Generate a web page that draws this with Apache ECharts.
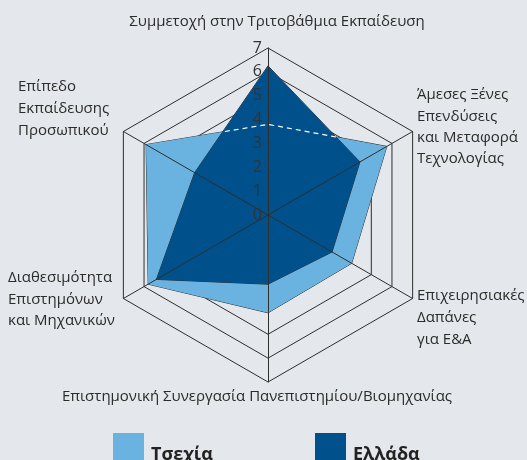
<!DOCTYPE html>
<html>
<head>
<meta charset="utf-8">
<script src="https://cdn.jsdelivr.net/npm/echarts@6/dist/echarts.min.js"></script>
<style>
  html, body { margin: 0; padding: 0; background: #e4e7eb; }
  #chart { width: 527px; height: 460px; }
</style>
</head>
<body>
<div id="chart"></div>
<script>
// Indicators in radar order (counter-clockwise, starting at the top)
const indicators = [
  'Συμμετοχή στην Τριτοβάθμια Εκπαίδευση',
  'Επίπεδο Εκπαίδευσης Προσωπικού',
  'Διαθεσιμότητα Επιστημόνων και Μηχανικών',
  'Επιστημονική Συνεργασία Πανεπιστημίου/Βιομηχανίας',
  'Επιχειρησιακές Δαπάνες για Ε&Α',
  'Άμεσες Ξένες Επενδύσεις και Μεταφορά Τεχνολογίας'
];
// How each indicator name is broken into lines around the chart
const nameLines = [
  ['Συμμετοχή στην Τριτοβάθμια Εκπαίδευση'],
  ['Επίπεδο', 'Εκπαίδευσης', 'Προσωπικού'],
  ['Διαθεσιμότητα', 'Επιστημόνων', 'και Μηχανικών'],
  ['Επιστημονική Συνεργασία Πανεπιστημίου/Βιομηχανίας'],
  ['Επιχειρησιακές', 'Δαπάνες', 'για Ε&Α'],
  ['Άμεσες Ξένες', 'Επενδύσεις', 'και Μεταφορά', 'Τεχνολογίας']
];
const seriesNames = ['Τσεχία', 'Ελλάδα'];
const czechValues = [3.8, 5.9, 5.8, 4.1, 4.05, 5.75];
const greeceValues = [6.25, 3.55, 5.4, 2.9, 3.1, 4.45];
const scaleMin = 0;
const scaleMax = 7;

const COLORS = { czech: '#6ab2df', greece: '#00518b', line: '#2e2e2e', text: '#2b2b2b', bg: '#e4e7eb' };
const CENTER = [268, 215];
const RADIUS = 167;
const FONT = '"Open Sans", sans-serif';

// Polygon helpers in value space, used to find the part of the Czech outline
// that lies inside the Greek area (drawn as a dashed white line there).
function toXY(values) {
  const n = values.length;
  return values.map((v, i) => {
    const t = (90 + i * 360 / n) * Math.PI / 180;
    return [v * Math.cos(t), v * Math.sin(t)];
  });
}
function insidePoly(p, poly) {
  let inside = false;
  for (let i = 0, j = poly.length - 1; i < poly.length; j = i++) {
    const xi = poly[i][0], yi = poly[i][1], xj = poly[j][0], yj = poly[j][1];
    if (((yi > p[1]) !== (yj > p[1])) && (p[0] < (xj - xi) * (p[1] - yi) / (yj - yi) + xi)) inside = !inside;
  }
  return inside;
}
function segParam(a, b, c, d) {
  const rx = b[0] - a[0], ry = b[1] - a[1], sx = d[0] - c[0], sy = d[1] - c[1];
  const den = rx * sy - ry * sx;
  if (Math.abs(den) < 1e-12) return null;
  const t = ((c[0] - a[0]) * sy - (c[1] - a[1]) * sx) / den;
  const u = ((c[0] - a[0]) * ry - (c[1] - a[1]) * rx) / den;
  return (t > 0 && t < 1 && u >= 0 && u <= 1) ? t : null;
}
const lerp = (a, b, t) => [a[0] + (b[0] - a[0]) * t, a[1] + (b[1] - a[1]) * t];
function clipInside(subject, clip) {
  const runs = [];
  let run = null;
  for (let i = 0; i < subject.length; i++) {
    const a = subject[i], b = subject[(i + 1) % subject.length];
    const ts = [0, 1];
    for (let k = 0; k < clip.length; k++) {
      const t = segParam(a, b, clip[k], clip[(k + 1) % clip.length]);
      if (t !== null) ts.push(t);
    }
    ts.sort((x, y) => x - y);
    for (let k = 0; k < ts.length - 1; k++) {
      if (ts[k + 1] - ts[k] < 1e-9) continue;
      const mid = lerp(a, b, (ts[k] + ts[k + 1]) / 2);
      if (insidePoly(mid, clip)) {
        const p0 = lerp(a, b, ts[k]), p1 = lerp(a, b, ts[k + 1]);
        if (run && Math.hypot(run[run.length - 1][0] - p0[0], run[run.length - 1][1] - p0[1]) < 1e-9) {
          run.push(p1);
        } else {
          run = [p0, p1];
          runs.push(run);
        }
      } else {
        run = null;
      }
    }
  }
  if (runs.length > 1) {
    const first = runs[0], last = runs[runs.length - 1];
    const e = last[last.length - 1], s = first[0];
    if (Math.hypot(e[0] - s[0], e[1] - s[1]) < 1e-9) {
      runs[0] = last.concat(first.slice(1));
      runs.pop();
    }
  }
  return runs;
}
// Convert to polar data items [radius, angle]; angle counted counter-clockwise from the top
const hiddenRuns = clipInside(toXY(czechValues), toXY(greeceValues));
const dashedData = [];
hiddenRuns.forEach((r, idx) => {
  if (idx > 0) dashedData.push(['-', '-']);
  r.forEach(p => {
    let ang = Math.atan2(p[1], p[0]) * 180 / Math.PI - 90;
    ang = (ang + 360) % 360;
    dashedData.push([Math.hypot(p[0], p[1]), ang]);
  });
});

// Indicator name placement
const namePlacement = [
  { x: 277, y: 22, align: 'center', lh: 21 },
  { x: 18, y: 109, align: 'left', lh: 22 },
  { x: 8, y: 299.5, align: 'left', lh: 21.5 },
  { x: 257, y: 397, align: 'center', lh: 21 },
  { x: 417, y: 318, align: 'left', lh: 22 },
  { x: 417, y: 127, align: 'left', lh: 21.3 }
];

const legendText = { fontFamily: FONT, fontSize: 18, fontWeight: 'bold', color: '#222', padding: [0, 0, 0, 2] };

const chart = echarts.init(document.getElementById('chart'));
chart.setOption({
  backgroundColor: COLORS.bg,
  animation: false,
  textStyle: { fontFamily: FONT },
  legend: [
    {
      data: [seriesNames[0]], left: 108, top: 428, itemWidth: 31, itemHeight: 44,
      icon: 'rect', selectedMode: false, textStyle: legendText
    },
    {
      data: [seriesNames[1]], left: 310, top: 428, itemWidth: 31, itemHeight: 44,
      icon: 'rect', selectedMode: false, textStyle: legendText
    }
  ],
  radar: [
    {
      // rings, drawn beneath the filled areas
      z: 0,
      center: CENTER, radius: RADIUS, startAngle: 90, shape: 'polygon', splitNumber: 7,
      indicator: indicators.map(n => ({ name: n, min: scaleMin, max: scaleMax })),
      axisName: { show: false },
      axisLine: { show: false },
      axisTick: { show: false },
      axisLabel: { show: false },
      splitArea: { show: false },
      splitLine: { lineStyle: { color: COLORS.line, width: 1 } }
    },
    {
      // spokes and value labels, drawn above the filled areas
      z: 5,
      center: CENTER, radius: RADIUS, startAngle: 90, shape: 'polygon', splitNumber: 7,
      indicator: indicators.map((n, i) => ({
        name: n, min: scaleMin, max: scaleMax,
        axisLabel: { show: i === 0 }
      })),
      axisName: { show: false },
      axisLine: { show: true, lineStyle: { color: COLORS.line, width: 1 } },
      axisTick: { show: false },
      axisLabel: { show: false, fontFamily: FONT, fontSize: 16, color: '#333', margin: 6 },
      splitArea: { show: false },
      splitLine: { show: false }
    }
  ],
  polar: { center: CENTER, radius: RADIUS },
  angleAxis: { type: 'value', min: 0, max: 360, startAngle: 90, clockwise: false, show: false },
  radiusAxis: { type: 'value', min: scaleMin, max: scaleMax, show: false },
  series: [
    {
      type: 'radar', radarIndex: 0, z: 2, symbol: 'none',
      data: [{
        name: seriesNames[0], value: czechValues,
        itemStyle: { color: COLORS.czech },
        lineStyle: { color: COLORS.line, width: 1 },
        areaStyle: { color: COLORS.czech, opacity: 1 }
      }]
    },
    {
      type: 'radar', radarIndex: 0, z: 3, symbol: 'none',
      data: [{
        name: seriesNames[1], value: greeceValues,
        itemStyle: { color: COLORS.greece },
        lineStyle: { color: COLORS.line, width: 1 },
        areaStyle: { color: COLORS.greece, opacity: 1 }
      }]
    },
    {
      type: 'line', coordinateSystem: 'polar', z: 4, silent: true,
      showSymbol: false, symbol: 'none', connectNulls: false,
      data: dashedData,
      lineStyle: { color: '#ffffff', width: 1.2, type: [5, 4] }
    }
  ],
  graphic: nameLines.map((lines, i) => ({
    type: 'text', silent: true,
    style: {
      text: lines.join('\n'),
      x: namePlacement[i].x, y: namePlacement[i].y,
      align: namePlacement[i].align, verticalAlign: 'middle',
      textAlign: namePlacement[i].align, textVerticalAlign: 'middle',
      lineHeight: namePlacement[i].lh,
      font: '15px ' + FONT,
      fill: COLORS.text
    }
  }))
});
</script>
</body>
</html>
